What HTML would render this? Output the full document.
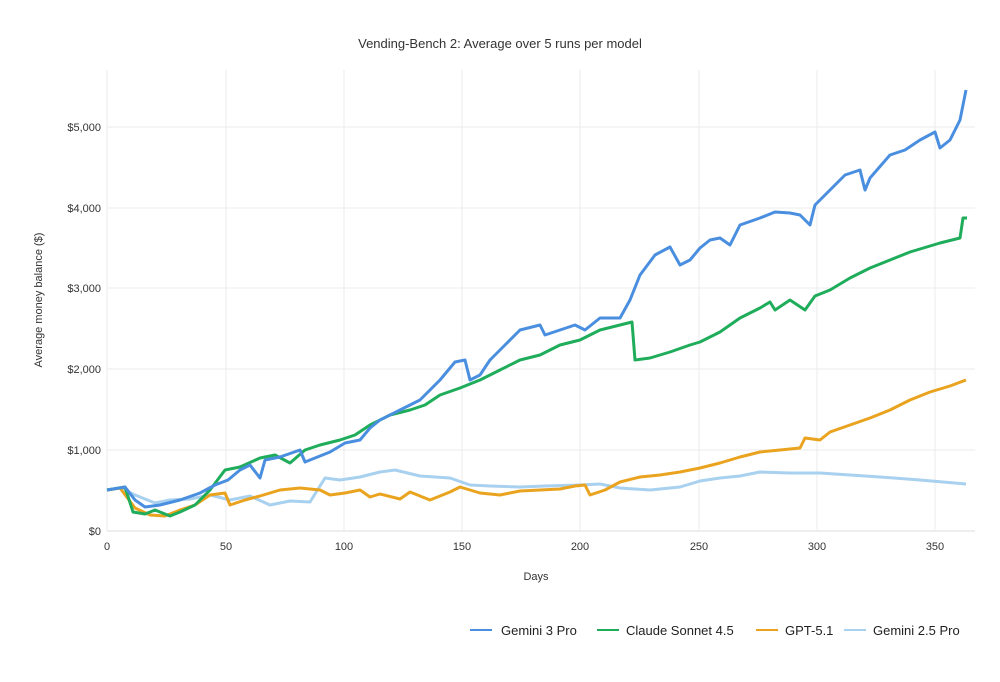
<!DOCTYPE html>
<html><head><meta charset="utf-8"><style>
body{margin:0;background:#fff;font-family:"Liberation Sans",sans-serif}
</style></head><body>
<svg width="1000" height="677" viewBox="0 0 1000 677" xmlns="http://www.w3.org/2000/svg" font-family="Liberation Sans, sans-serif">
<rect width="1000" height="677" fill="#fff"/>
<text x="500" y="48" text-anchor="middle" font-size="13" fill="#333">Vending-Bench 2: Average over 5 runs per model</text>
<g stroke="#ebebeb" stroke-width="1">
<line x1="107" y1="70" x2="107" y2="531"/><line x1="226" y1="70" x2="226" y2="531"/><line x1="344" y1="70" x2="344" y2="531"/><line x1="462" y1="70" x2="462" y2="531"/><line x1="580" y1="70" x2="580" y2="531"/><line x1="699" y1="70" x2="699" y2="531"/><line x1="817" y1="70" x2="817" y2="531"/><line x1="935" y1="70" x2="935" y2="531"/>
<line x1="107" y1="450" x2="975" y2="450"/><line x1="107" y1="369" x2="975" y2="369"/><line x1="107" y1="288" x2="975" y2="288"/><line x1="107" y1="208" x2="975" y2="208"/><line x1="107" y1="127" x2="975" y2="127"/>
</g>
<line x1="107" y1="531" x2="975" y2="531" stroke="#ddd"/>
<g font-size="11" fill="#333" text-anchor="end">
<text x="101" y="535">$0</text><text x="101" y="454">$1,000</text><text x="101" y="373">$2,000</text><text x="101" y="292">$3,000</text><text x="101" y="212">$4,000</text><text x="101" y="131">$5,000</text>
</g>
<g font-size="11" fill="#333" text-anchor="middle">
<text x="107" y="550">0</text><text x="226" y="550">50</text><text x="344" y="550">100</text><text x="462" y="550">150</text><text x="580" y="550">200</text><text x="699" y="550">250</text><text x="817" y="550">300</text><text x="935" y="550">350</text>
<text x="536" y="580">Days</text>
</g>
<text transform="translate(42,300) rotate(-90)" font-size="11" fill="#333" text-anchor="middle">Average money balance ($)</text>
<g fill="none" stroke-width="3" stroke-linejoin="round">
<polyline stroke="#a8d0ef" points="107,490 120,488 135,495 155,503 170,500 190,499 210,495 230,500 250,496 270,505 290,501 310,502 325,478 340,480 360,477 380,472 395,470 420,476 450,478 470,485 490,486 520,487 545,486 580,485 600,484 620,488 650,490 680,487 700,481 720,478 740,476 760,472 790,473 820,473 850,475 880,477 920,480 966,484"/>
<polyline stroke="#e9a31f" points="107,490 120,488 135,508 150,515 165,516 180,510 195,505 210,495 225,493 230,505 245,500 260,496 280,490 300,488 320,490 330,495 345,493 360,490 370,497 380,494 400,499 410,492 430,500 450,492 460,487 480,493 500,495 520,491 540,490 560,489 575,486 585,485 590,495 605,490 620,482 640,477 660,475 680,472 700,468 720,463 740,457 760,452 780,450 800,448 805,438 820,440 830,432 850,425 870,418 890,410 910,400 930,392 950,386 966,380"/>
<polyline stroke="#1fad5b" points="107,490 125,487 133,512 145,514 155,510 170,516 180,512 195,505 210,490 225,470 240,467 260,458 275,455 290,463 305,450 320,445 340,440 355,435 370,425 390,415 410,410 425,405 440,395 460,388 480,380 500,370 520,360 540,355 560,345 580,340 600,330 620,325 632,322 635,360 650,358 670,352 690,345 700,342 720,332 740,318 760,308 770,302 775,310 790,300 805,310 815,296 830,290 850,278 870,268 890,260 910,252 940,243 960,238 963,218 967,218"/>
<polyline stroke="#4a8ee0" points="107,490 125,487 135,500 145,507 160,505 180,500 200,493 215,485 228,480 240,470 250,465 260,478 265,460 280,457 300,450 305,462 330,452 345,443 360,440 370,428 380,420 400,410 420,400 440,380 455,362 465,360 470,380 480,375 490,360 505,345 520,330 540,325 545,335 560,330 575,325 585,330 600,318 620,318 630,300 640,275 655,255 670,247 680,265 690,260 700,248 710,240 720,238 730,245 740,225 760,218 775,212 790,213 800,215 810,225 815,205 830,190 845,175 860,170 865,190 870,178 890,155 905,150 920,140 935,132 940,148 950,140 960,120 966,90"/>
</g>
<g font-size="13" fill="#222" stroke-width="2">
<line x1="470" y1="630" x2="492" y2="630" stroke="#4a8ee0"/><text x="501" y="635">Gemini 3 Pro</text>
<line x1="597" y1="630" x2="619" y2="630" stroke="#1fad5b"/><text x="626" y="635">Claude Sonnet 4.5</text>
<line x1="756" y1="630" x2="778" y2="630" stroke="#e9a31f"/><text x="785" y="635">GPT-5.1</text>
<line x1="844" y1="630" x2="866" y2="630" stroke="#a8d0ef"/><text x="873" y="635">Gemini 2.5 Pro</text>
</g>
</svg>
</body></html>
